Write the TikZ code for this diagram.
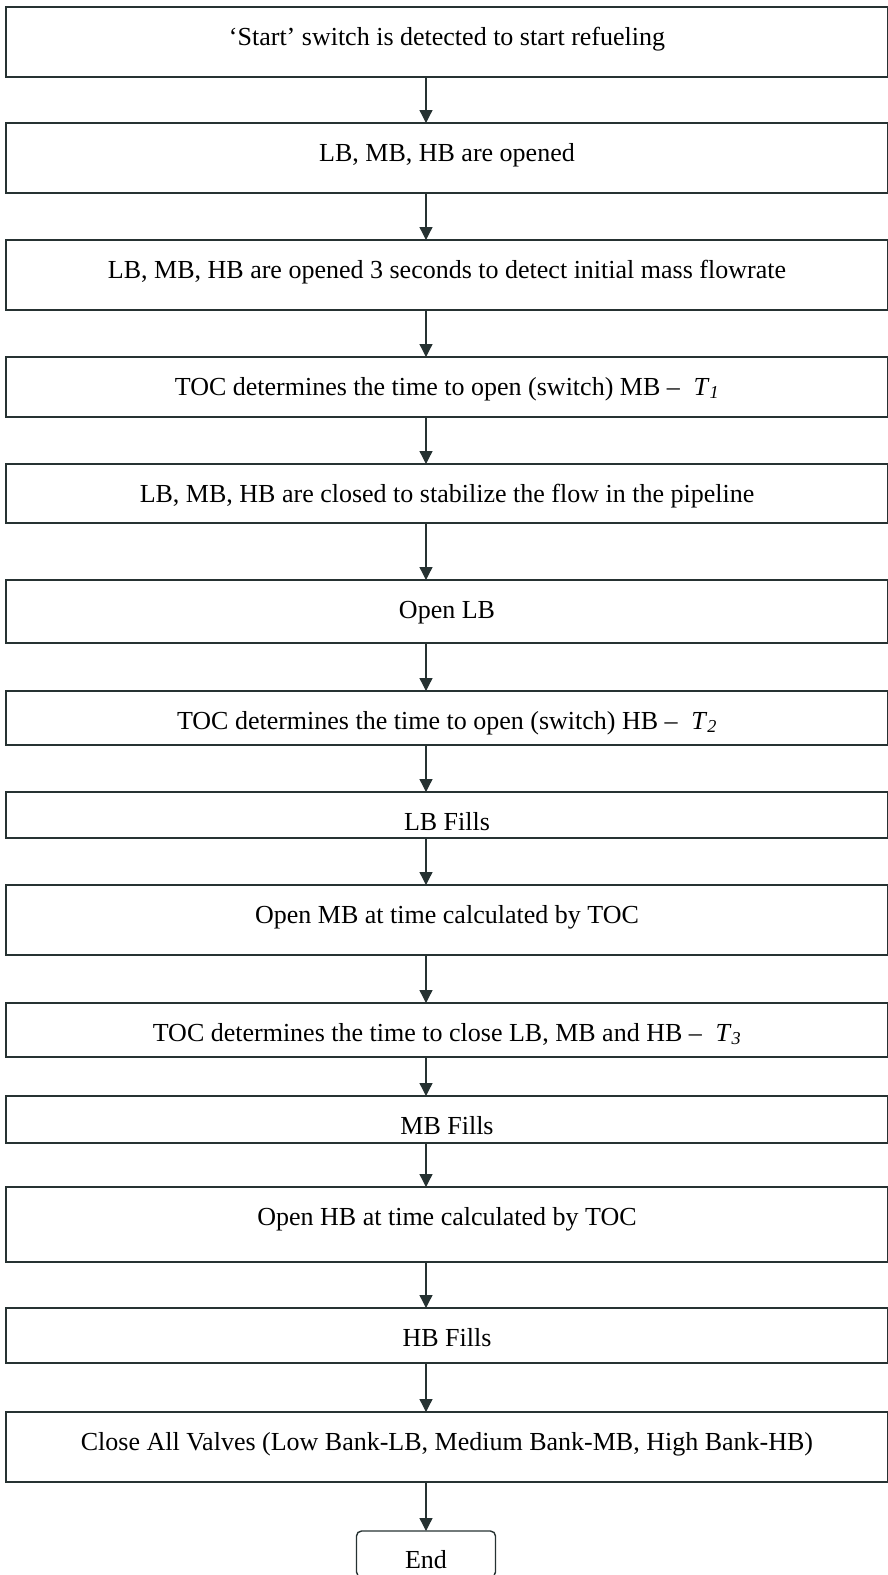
\documentclass[tikz,border=0pt]{standalone}
\usepackage{fontspec}
\setmainfont{Liberation Serif}
\usetikzlibrary{positioning,arrows.meta}
\definecolor{LineGray}{HTML}{263232}
\tikzset{
  BoxStyle/.style = { draw = LineGray, line width = 1.4pt, minimum width = 882pt,
    inner ysep = 0pt, outer sep = 0pt, text height = 38pt, text depth = #1,
    font = \fontsize{26}{30}\selectfont },
  EndStyle/.style = { BoxStyle = 9pt, rounded corners = 5pt, minimum width = 139pt,
    text height = 37pt },
  EdgeStyle/.style = { draw = LineGray, line width = 1.3pt,
    -{Triangle[length = 13pt, width = 13pt]} } }
\newcommand{\Tsub}[1]{\textit{T}\textsubscript{\textit{#1}}}

\begin{document}
\begin{tikzpicture}
  \useasboundingbox (0,0) rectangle (887pt,-1575pt);
  \node[BoxStyle = 32pt, anchor = north] (s1) at (447pt,-7pt) {‘Start’ switch is detected to start refueling};
  \node[BoxStyle = 32pt, below = 46pt of s1] (s2) {LB, MB, HB are opened};
  \node[BoxStyle = 32pt, below = 47pt of s2] (s3) {LB, MB, HB are opened 3 seconds to detect initial mass flowrate};
  \node[BoxStyle = 22pt, below = 47pt of s3] (s4) {TOC determines the time to open (switch) MB --\; \Tsub{1}};
  \node[BoxStyle = 21pt, below = 47pt of s4] (s5) {LB, MB, HB are closed to stabilize the flow in the pipeline};
  \node[BoxStyle = 25pt, below = 57pt of s5] (s6) {Open LB};
  \node[BoxStyle = 16pt, below = 48pt of s6] (s7) {TOC determines the time to open (switch) HB --\; \Tsub{2}};
  \node[BoxStyle = 8pt, below = 47pt of s7] (s8) {LB Fills};
  \node[BoxStyle = 32pt, below = 47pt of s8] (s9) {Open MB at time calculated by TOC};
  \node[BoxStyle = 16pt, below = 48pt of s9] (s10) {TOC determines the time to close LB, MB and HB --\; \Tsub{3}};
  \node[BoxStyle = 9pt, below = 39pt of s10] (s11) {MB Fills};
  \node[BoxStyle = 37pt, below = 44pt of s11] (s12) {Open HB at time calculated by TOC};
  \node[BoxStyle = 17pt, below = 46pt of s12] (s13) {HB Fills};
  \node[BoxStyle = 32pt, below = 49pt of s13] (s14) {Close All Valves (Low Bank-LB, Medium Bank-MB, High Bank-HB)};
  \node[EndStyle, anchor = north] (e) at ([yshift = -49pt]s14.south -| 426pt,0) {End};
  \foreach \a/\b in {s1/s2, s2/s3, s3/s4, s4/s5, s5/s6, s6/s7, s7/s8,
                     s8/s9, s9/s10, s10/s11, s11/s12, s12/s13, s13/s14}
    \draw[EdgeStyle] (\a.south -| e.north) -- (\b.north -| e.north);
  \draw[EdgeStyle] (s14.south -| e.north) -- (e.north);
\end{tikzpicture}
\end{document}
